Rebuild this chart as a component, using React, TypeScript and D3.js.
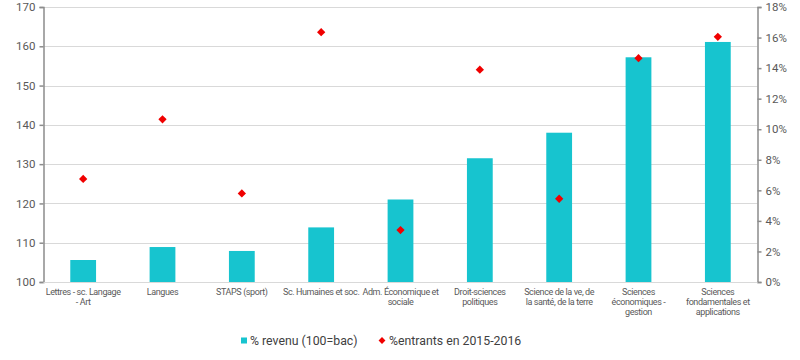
import { useEffect, useRef } from "react";
import * as d3 from "d3";

// categories (lines are the wrapped label lines)
const categories = [
  ["Lettres - sc. Langage", "- Art"],
  ["Langues"],
  ["STAPS (sport)"],
  ["Sc. Humaines et soc."],
  ["Adm. Économique et", "sociale"],
  ["Droit-sciences", "politiques"],
  ["Science de la ve, de", "la santé, de la terre"],
  ["Sciences", "économiques -", "gestion"],
  ["Sciences", "fondamentales et", "applications"],
];
const revenu = [105.6, 108.9, 107.9, 113.9, 121, 131.5, 138, 157.2, 161.1];
const entrants = [6.75, 10.65, 5.8, 16.35, 3.4, 13.9, 5.45, 14.65, 16.05];
const leftTicks = [100, 110, 120, 130, 140, 150, 160, 170];
const rightTicks = [0, 2, 4, 6, 8, 10, 12, 14, 16, 18];
const legendLabels = ["% revenu (100=bac)", "%entrants en 2015-2016"];

const BAR = "#17C4CF";
const DOT = "#F00000";

export default function App() {
  const ref = useRef<SVGSVGElement | null>(null);

  useEffect(() => {
    const width = 800, height = 360;
    const marginLeft = 43.5, marginRight = 42.5, marginTop = 7, bottom = 282;

    const svg = d3.select(ref.current);
    svg.selectAll("*").remove();
    svg.attr("width", width).attr("height", height).attr("viewBox", [0, 0, width, height].join(" "));

    const keys = categories.map((d, i) => String(i));
    const x = d3.scaleBand()
      .domain(keys)
      .range([marginLeft, width - marginRight])
      .paddingInner(0.675)
      .paddingOuter(0.3375);

    const y = d3.scaleLinear().domain([100, 170]).range([bottom, marginTop]);
    const y2 = d3.scaleLinear().domain([0, 18]).range([bottom, marginTop]);

    // gridlines
    svg.append("g")
      .selectAll("line")
      .data(leftTicks.slice(1))
      .join("line")
        .attr("x1", marginLeft)
        .attr("x2", width - marginRight)
        .attr("y1", d => Math.round(y(d)) + 0.5)
        .attr("y2", d => Math.round(y(d)) + 0.5)
        .attr("stroke", "#D9D9D9");

    // bars
    svg.append("g")
      .selectAll("rect")
      .data(revenu)
      .join("rect")
        .attr("fill", BAR)
        .attr("x", (d, i) => x(String(i))!)
        .attr("y", d => y(d))
        .attr("width", x.bandwidth())
        .attr("height", d => y(100) - y(d));

    // diamonds
    const diamond = d3.symbol().type(d3.symbolDiamond2).size(44);
    svg.append("g")
      .selectAll("path")
      .data(entrants)
      .join("path")
        .attr("fill", DOT)
        .attr("d", diamond)
        .attr("transform", (d, i) => `translate(${x(String(i))! + x.bandwidth() / 2},${y2(d)})`);

    // left axis
    svg.append("g")
        .attr("transform", `translate(${marginLeft},0)`)
      .call(d3.axisLeft(y).tickValues(leftTicks).tickSize(4).tickPadding(4))
      .call(g => g.selectAll(".domain, line").attr("stroke", "#8C8C8C").attr("stroke-width", 1.5))
      .call(g => g.selectAll("text").attr("fill", "#595959").attr("font-size", 11.5).attr("font-family", "Roboto"));

    // right axis
    svg.append("g")
        .attr("transform", `translate(${width - marginRight},0)`)
      .call(d3.axisRight(y2).tickValues(rightTicks).tickSize(4).tickPadding(4).tickFormat(d => `${d}%`))
      .call(g => g.selectAll(".domain, line").attr("stroke", "#8C8C8C").attr("stroke-width", 1.5))
      .call(g => g.selectAll("text").attr("fill", "#595959").attr("font-size", 11.5).attr("font-family", "Roboto"));

    // bottom line
    svg.append("line")
      .attr("x1", marginLeft).attr("x2", width - marginRight)
      .attr("y1", bottom + 0.5).attr("y2", bottom + 0.5)
      .attr("stroke", "#D9D9D9");

    // x labels
    const labels = svg.append("g")
      .attr("font-family", "Roboto")
      .attr("font-size", 9)
      .attr("letter-spacing", -0.4)
      .attr("fill", "#595959")
      .attr("text-anchor", "middle");
    categories.forEach((lines, i) => {
      const t = labels.append("text")
        .attr("x", x(String(i))! + x.bandwidth() / 2)
        .attr("y", 295);
      lines.forEach((l, j) => {
        t.append("tspan")
          .attr("x", x(String(i))! + x.bandwidth() / 2)
          .attr("dy", j === 0 ? 0 : 10)
          .text(l);
      });
    });

    // legend
    const legend = svg.append("g")
      .attr("font-family", "Roboto")
      .attr("font-size", 12.3)
      .attr("fill", "#404040");
    legend.append("rect")
      .attr("x", 241).attr("y", 337.5).attr("width", 6).attr("height", 6)
      .attr("fill", BAR);
    legend.append("text").attr("x", 250).attr("y", 345).text(legendLabels[0]);
    legend.append("path")
      .attr("d", d3.symbol().type(d3.symbolDiamond2).size(30)())
      .attr("transform", "translate(382,340.5)")
      .attr("fill", DOT);
    legend.append("text").attr("x", 389).attr("y", 345).text(legendLabels[1]);
  }, []);

  return (
    <svg ref={ref} style={{ position: "absolute", left: 0, top: 0, background: "#fff" }} />
  );
}
